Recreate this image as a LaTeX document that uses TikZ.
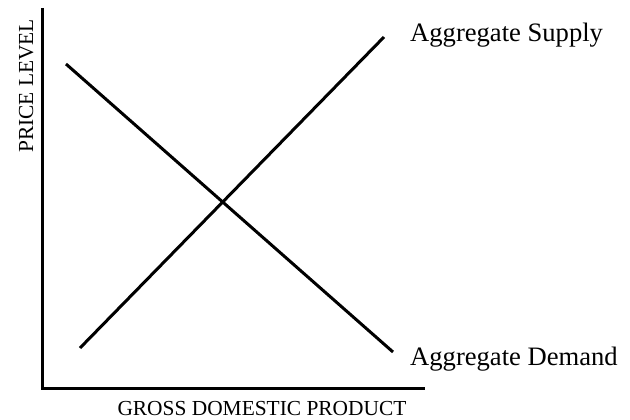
\documentclass[tikz,border=0pt]{standalone}
\usepackage{fontspec}
\setmainfont{Liberation Serif}
\begin{document}
\begin{tikzpicture}[x=1pt,y=-1pt,
  curve/.style={line width=3pt},
  axis/.style={line width=3pt},
  lbl/.style={inner sep=0pt,font=\fontsize{26.6}{30}\selectfont},
  axlbl/.style={inner sep=0pt,font=\fontsize{21.4}{24}\selectfont}]
\useasboundingbox (0,0) rectangle (630,420);
\coordinate (ytop) at (42,8);
\coordinate (orig) at (42,388);
\coordinate (xend) at (425,388);
\draw[axis] (ytop) -- (orig) -- (xend);
\coordinate (s1) at (80,348);
\coordinate (s2) at (384,37);
\coordinate (d1) at (66,64);
\coordinate (d2) at (393,352);
\draw[curve] (s1) -- (s2);
\draw[curve] (d1) -- (d2);
\node[lbl,anchor=base west] (as) at (410,42) {Aggregate Supply};
\node[lbl,anchor=base west] (ad) at (410,365) {Aggregate Demand};
\node[axlbl,anchor=base] (gdp) at (262,415) {GROSS DOMESTIC PRODUCT};
\node[axlbl,anchor=base,rotate=90] (pl) at (33,86) {PRICE LEVEL};
\end{tikzpicture}
\end{document}
